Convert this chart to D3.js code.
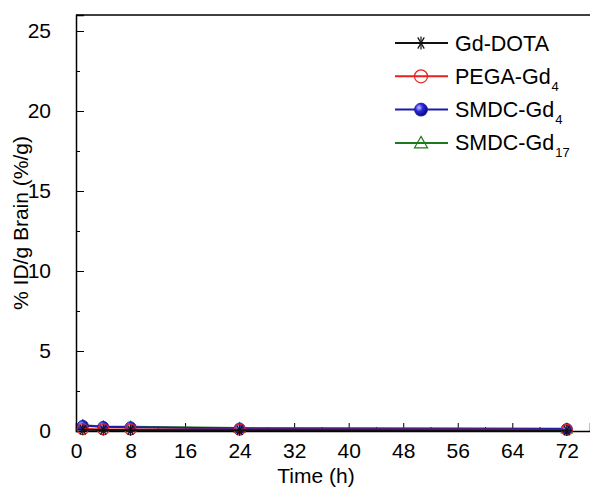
<!DOCTYPE html>
<html>
<head>
<meta charset="utf-8">
<script src="https://cdn.jsdelivr.net/npm/d3@7"></script>
<style>
  body { margin: 0; background: #fff; }
  svg, svg text { font-family: "Liberation Sans", Arial, sans-serif; }
</style>
</head>
<body>
<div class="chart"></div>
<script>
// data
const times = [1, 4, 8, 24, 72];
const gdDota = [0.08, 0.06, 0.05, 0.04, 0.03];
const pegaGd4 = [0.12, 0.1, 0.1, 0.08, 0.07];
const smdcGd4 = [0.33, 0.26, 0.24, 0.16, 0.13];
const smdcGd17 = [0.36, 0.28, 0.26, 0.18, 0.14];
const xTicks = [0, 8, 16, 24, 32, 40, 48, 56, 64, 72];
const yTicks = [0, 5, 10, 15, 20, 25];

const series = [
    { name: 'Gd-DOTA', sub: '', values: gdDota, color: '#111111', marker: 'star' },
    { name: 'PEGA-Gd', sub: '4', values: pegaGd4, color: '#e8201c', marker: 'circleOpen' },
    { name: 'SMDC-Gd', sub: '4', values: smdcGd4, color: '#1c1ca8', marker: 'ball' },
    { name: 'SMDC-Gd', sub: '17', values: smdcGd17, color: '#1f7a1f', marker: 'triangle' }
]

const width = 590;
const height = 491;
const plotLeft = 76, plotRight = 590, plotTop = 15, plotBottom = 431;

const svg = d3.select('.chart')
    .append('svg')
    .attr('width', width)
    .attr('height', height)

const defs = svg.append('defs')
const grad = defs.append('radialGradient').attr('id', 'ballGrad')
    .attr('cx', '35%').attr('cy', '35%').attr('r', '65%')
grad.append('stop').attr('offset', '0%').attr('stop-color', '#c8c8ff')
grad.append('stop').attr('offset', '45%').attr('stop-color', '#2a2ae0')
grad.append('stop').attr('offset', '100%').attr('stop-color', '#0a0a80')

const x = d3.scaleLinear().domain([0, 75.4]).range([plotLeft, plotRight])
const y = d3.scaleLinear().domain([0, 26]).range([plotBottom, plotTop])

// minor ticks
svg.append('g')
    .attr('transform', `translate(0,${plotBottom})`)
    .call(d3.axisBottom(x).tickValues(d3.range(4, 76, 8)).tickSize(-4).tickFormat(''))
    .call(g => g.select('.domain').remove())
svg.append('g')
    .attr('transform', `translate(${plotLeft},0)`)
    .call(d3.axisLeft(y).tickValues(d3.range(2.5, 26, 5)).tickSize(-4).tickFormat(''))
    .call(g => g.select('.domain').remove())

const xAxis = svg.append('g')
    .attr('transform', `translate(0,${plotBottom})`)
    .attr('class', 'x-axis')
    .call(d3.axisBottom(x).tickValues(xTicks).tickSize(-8).tickPadding(12))
xAxis.attr('font-family', '"Liberation Sans", Arial, sans-serif').attr('font-size', 21)
xAxis.selectAll('text').attr('fill', '#000')
xAxis.select('.domain').attr('stroke-width', 1.5)

const yAxis = svg.append('g')
    .attr('transform', `translate(${plotLeft},0)`)
    .attr('class', 'y-axis')
    .call(d3.axisLeft(y).tickValues(yTicks).tickSize(-8).tickPadding(25))
yAxis.attr('font-family', '"Liberation Sans", Arial, sans-serif').attr('font-size', 21)
yAxis.selectAll('text').attr('fill', '#000')
yAxis.select('.domain').attr('stroke-width', 1.5)

svg.append('line')
    .attr('x1', plotLeft).attr('x2', plotRight)
    .attr('y1', plotTop).attr('y2', plotTop)
    .attr('stroke', '#000').attr('stroke-width', 1.5)

svg.append('text')
    .attr('x', 316)
    .attr('y', 483)
    .attr('text-anchor', 'middle')
    .attr('font-size', 21)
    .text('Time (h)')

svg.append('text')
    .attr('transform', `translate(28,${(plotTop + plotBottom) / 2}) rotate(-90)`)
    .attr('text-anchor', 'middle')
    .attr('font-size', 21)
    .text('% ID/g Brain (%/g)')

function drawMarker(g, type, color, cx, cy, s) {
    if (type === 'star') {
        [0, 60, 120].forEach(a => {
            const r = a * Math.PI / 180
            g.append('line')
                .attr('x1', cx - s * Math.cos(r)).attr('y1', cy - s * Math.sin(r))
                .attr('x2', cx + s * Math.cos(r)).attr('y2', cy + s * Math.sin(r))
                .attr('stroke', color).attr('stroke-width', 1.2)
        })
        g.append('line')
            .attr('x1', cx).attr('x2', cx).attr('y1', cy - s).attr('y2', cy + s)
            .attr('stroke', color).attr('stroke-width', 1.2)
    } else if (type === 'circleOpen') {
        g.append('circle').attr('cx', cx).attr('cy', cy).attr('r', s)
            .attr('fill', 'none').attr('stroke', color).attr('stroke-width', 1.2)
    } else if (type === 'ball') {
        g.append('circle').attr('cx', cx).attr('cy', cy).attr('r', s)
            .attr('fill', 'url(#ballGrad)').attr('stroke', color).attr('stroke-width', 0.8)
    } else {
        g.append('path')
            .attr('d', `M${cx},${cy - s}L${cx + s},${cy + s * 0.75}L${cx - s},${cy + s * 0.75}Z`)
            .attr('fill', 'none').attr('stroke', color).attr('stroke-width', 1.2)
    }
}

const line = d3.line().x((d, i) => x(times[i])).y(d => y(d))

const plot = svg.append('g')
series.slice().reverse().forEach(s => {
    plot.append('path')
        .datum(s.values)
        .attr('d', line)
        .attr('fill', 'none')
        .attr('stroke', s.color)
        .attr('stroke-width', 2)
    s.values.forEach((v, i) => drawMarker(plot, s.marker, s.color, x(times[i]), y(v), 5.5))
})

// legend
const legend = svg.append('g')
series.forEach((s, i) => {
    const ly = 43 + i * 33.3
    legend.append('line')
        .attr('x1', 395).attr('x2', 448)
        .attr('y1', ly).attr('y2', ly)
        .attr('stroke', s.color).attr('stroke-width', 2)
    drawMarker(legend, s.marker, s.color, 421, ly, 6.5)
    const t = legend.append('text')
        .attr('x', 455).attr('y', ly + 7.5)
        .attr('font-size', 21.5)
        .text(s.name)
    if (s.sub) {
        t.append('tspan').attr('font-size', 13).attr('dy', 7).attr('dx', 1).text(s.sub)
    }
})
</script>
</body>
</html>
